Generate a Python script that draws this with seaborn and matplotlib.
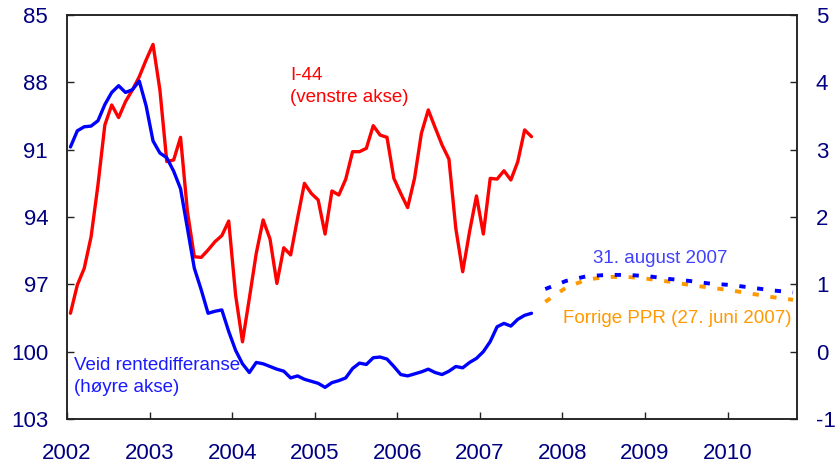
"""I-44 og veid rentedifferanse, med anslag (PPR 3/07 og forrige PPR)."""

import matplotlib

matplotlib.use("Agg")
import matplotlib.pyplot as plt
import numpy as np
import pandas as pd
import seaborn as sns


# I-44, monthly Jan 2002 - Aug 2007 (left axis, inverted)
I44 = [
    98.29, 97.03, 96.29, 94.88, 92.57, 89.90, 89.01, 89.57, 88.86, 88.34, 87.75, 87.00,
    86.31, 88.34, 91.53, 91.46, 90.45, 93.76, 95.77, 95.80, 95.47, 95.10, 94.83, 94.18,
    97.48, 99.56, 97.62, 95.62, 94.13, 94.98, 96.96, 95.37, 95.69, 94.06, 92.50, 92.95,
    93.24, 94.76, 92.84, 93.02, 92.32, 91.09, 91.09, 90.94, 89.93, 90.35, 90.45, 92.28,
    92.95, 93.58, 92.28, 90.27, 89.23, 90.02, 90.79, 91.42, 94.51, 96.44, 94.65, 93.06,
    94.76, 92.28, 92.31, 91.94, 92.35, 91.54, 90.12, 90.42,
]

# Veid rentedifferanse, monthly Jan 2002 - Aug 2007 (right axis)
RENTEDIFF = [
    3.04, 3.28, 3.34, 3.35, 3.43, 3.67, 3.85, 3.95, 3.85, 3.89, 4.02, 3.65,
    3.13, 2.95, 2.88, 2.68, 2.42, 1.83, 1.24, 0.92, 0.57, 0.60, 0.62, 0.30,
    0.02, -0.18, -0.31, -0.16, -0.18, -0.22, -0.26, -0.29, -0.39, -0.36, -0.41, -0.44,
    -0.47, -0.53, -0.46, -0.43, -0.39, -0.25, -0.17, -0.19, -0.09, -0.08, -0.11, -0.22,
    -0.34, -0.36, -0.33, -0.30, -0.26, -0.31, -0.34, -0.29, -0.22, -0.24, -0.16, -0.10,
    0.00, 0.15, 0.37, 0.42, 0.38, 0.48, 0.54, 0.57,
]

# Forecast paths, quarterly from Oct 2007
FORECAST_MONTHS = [
    "2007-10", "2008-01", "2008-04", "2008-07", "2008-10", "2009-01", "2009-04",
    "2009-07", "2009-10", "2010-01", "2010-04", "2010-07", "2010-10",
]
PPR_AUG07 = [0.93, 1.05, 1.12, 1.14, 1.14, 1.12, 1.08, 1.05, 1.01, 0.99, 0.95, 0.91, 0.88]
PPR_JUN07 = [0.74, 0.95, 1.07, 1.11, 1.11, 1.08, 1.04, 0.99, 0.95, 0.91, 0.86, 0.81, 0.77]

YEARS = list(range(2002, 2011))
LEFT_TICKS = [85, 88, 91, 94, 97, 100, 103]
RIGHT_TICKS = [-1, 0, 1, 2, 3, 4, 5]

NAVY = "#000080"


def to_decimal_year(periods):
    """Mid-month position as decimal year."""
    idx = pd.PeriodIndex(periods, freq="M")
    return idx.year + (idx.month - 0.5) / 12


def main():
    sns.set_theme(style="white")
    plt.rcParams["font.family"] = ["Liberation Sans", "DejaVu Sans"]
    plt.rcParams["axes.unicode_minus"] = False

    hist_x = to_decimal_year(pd.period_range("2002-01", periods=len(I44), freq="M"))
    fc_x = to_decimal_year(FORECAST_MONTHS)

    fig = plt.figure(figsize=(8.36, 4.70), dpi=100)
    ax = fig.add_axes([67 / 836, 1 - 419 / 470, 730 / 836, 404 / 470])
    ax2 = ax.twinx()

    sns.lineplot(x=hist_x, y=I44, ax=ax, color="#ff0000", linewidth=2.4)
    sns.lineplot(x=hist_x, y=RENTEDIFF, ax=ax2, color="#0000ff", linewidth=2.4)
    sns.lineplot(x=fc_x, y=PPR_JUN07, ax=ax2, color="#ff9900", linewidth=2.8,
                 linestyle=(0, (1.6, 3.0)))
    sns.lineplot(x=fc_x, y=PPR_AUG07, ax=ax2, color="#0000ff", linewidth=2.8,
                 linestyle=(0, (1.6, 3.0)))

    ax.set_xlim(2002, 2010.84)
    ax.set_ylim(103, 85)
    ax2.set_ylim(-1, 5)

    ax.set_xticks(YEARS)
    ax.set_xticklabels([str(y) for y in YEARS])
    ax.set_yticks(LEFT_TICKS)
    ax2.set_yticks(RIGHT_TICKS)
    ax.grid(False)
    ax2.grid(False)
    ax.set_xlabel("")
    ax2.set_xlabel("")
    ax.xaxis.get_offset_text().set_visible(False)
    ax2.xaxis.get_offset_text().set_visible(False)

    for a in (ax, ax2):
        for spine in a.spines.values():
            spine.set_visible(True)
            spine.set_color("#222222")
            spine.set_linewidth(1.1)
    ax.tick_params(axis="y", direction="in", length=5, width=1, color="#222222",
                   labelsize=16, labelcolor=NAVY, pad=13.5, left=True)
    ax.tick_params(axis="x", direction="in", length=5, width=1, color="#222222",
                   labelsize=16, labelcolor=NAVY, pad=17, bottom=True)
    ax2.tick_params(axis="y", direction="in", length=5, width=1, color="#222222",
                    labelsize=16, labelcolor=NAVY, pad=13.5, right=True)

    ax.text(2004.70, 87.90, "I-44", color="#ff0000", fontsize=13.5, va="baseline")
    ax.text(2004.70, 88.86, "(venstre akse)", color="#ff0000", fontsize=13.5,
            va="baseline")
    ax2.text(2002.085, -0.27, "Veid rentedifferanse", color="#1a1aff", fontsize=13.5,
             va="baseline")
    ax2.text(2002.085, -0.595, "(høyre akse)", color="#1a1aff", fontsize=13.5,
             va="baseline")
    ax2.text(2009.18, 1.32, "31. august 2007", color="#4040ff", fontsize=13.5,
             ha="center", va="baseline")
    ax2.text(2010.77, 0.43, "Forrige PPR (27. juni 2007)", color="#ff9900",
             fontsize=13.5, ha="right", va="baseline")

    fig.savefig("out.png", dpi=100)
    plt.close(fig)


if __name__ == "__main__":
    main()
